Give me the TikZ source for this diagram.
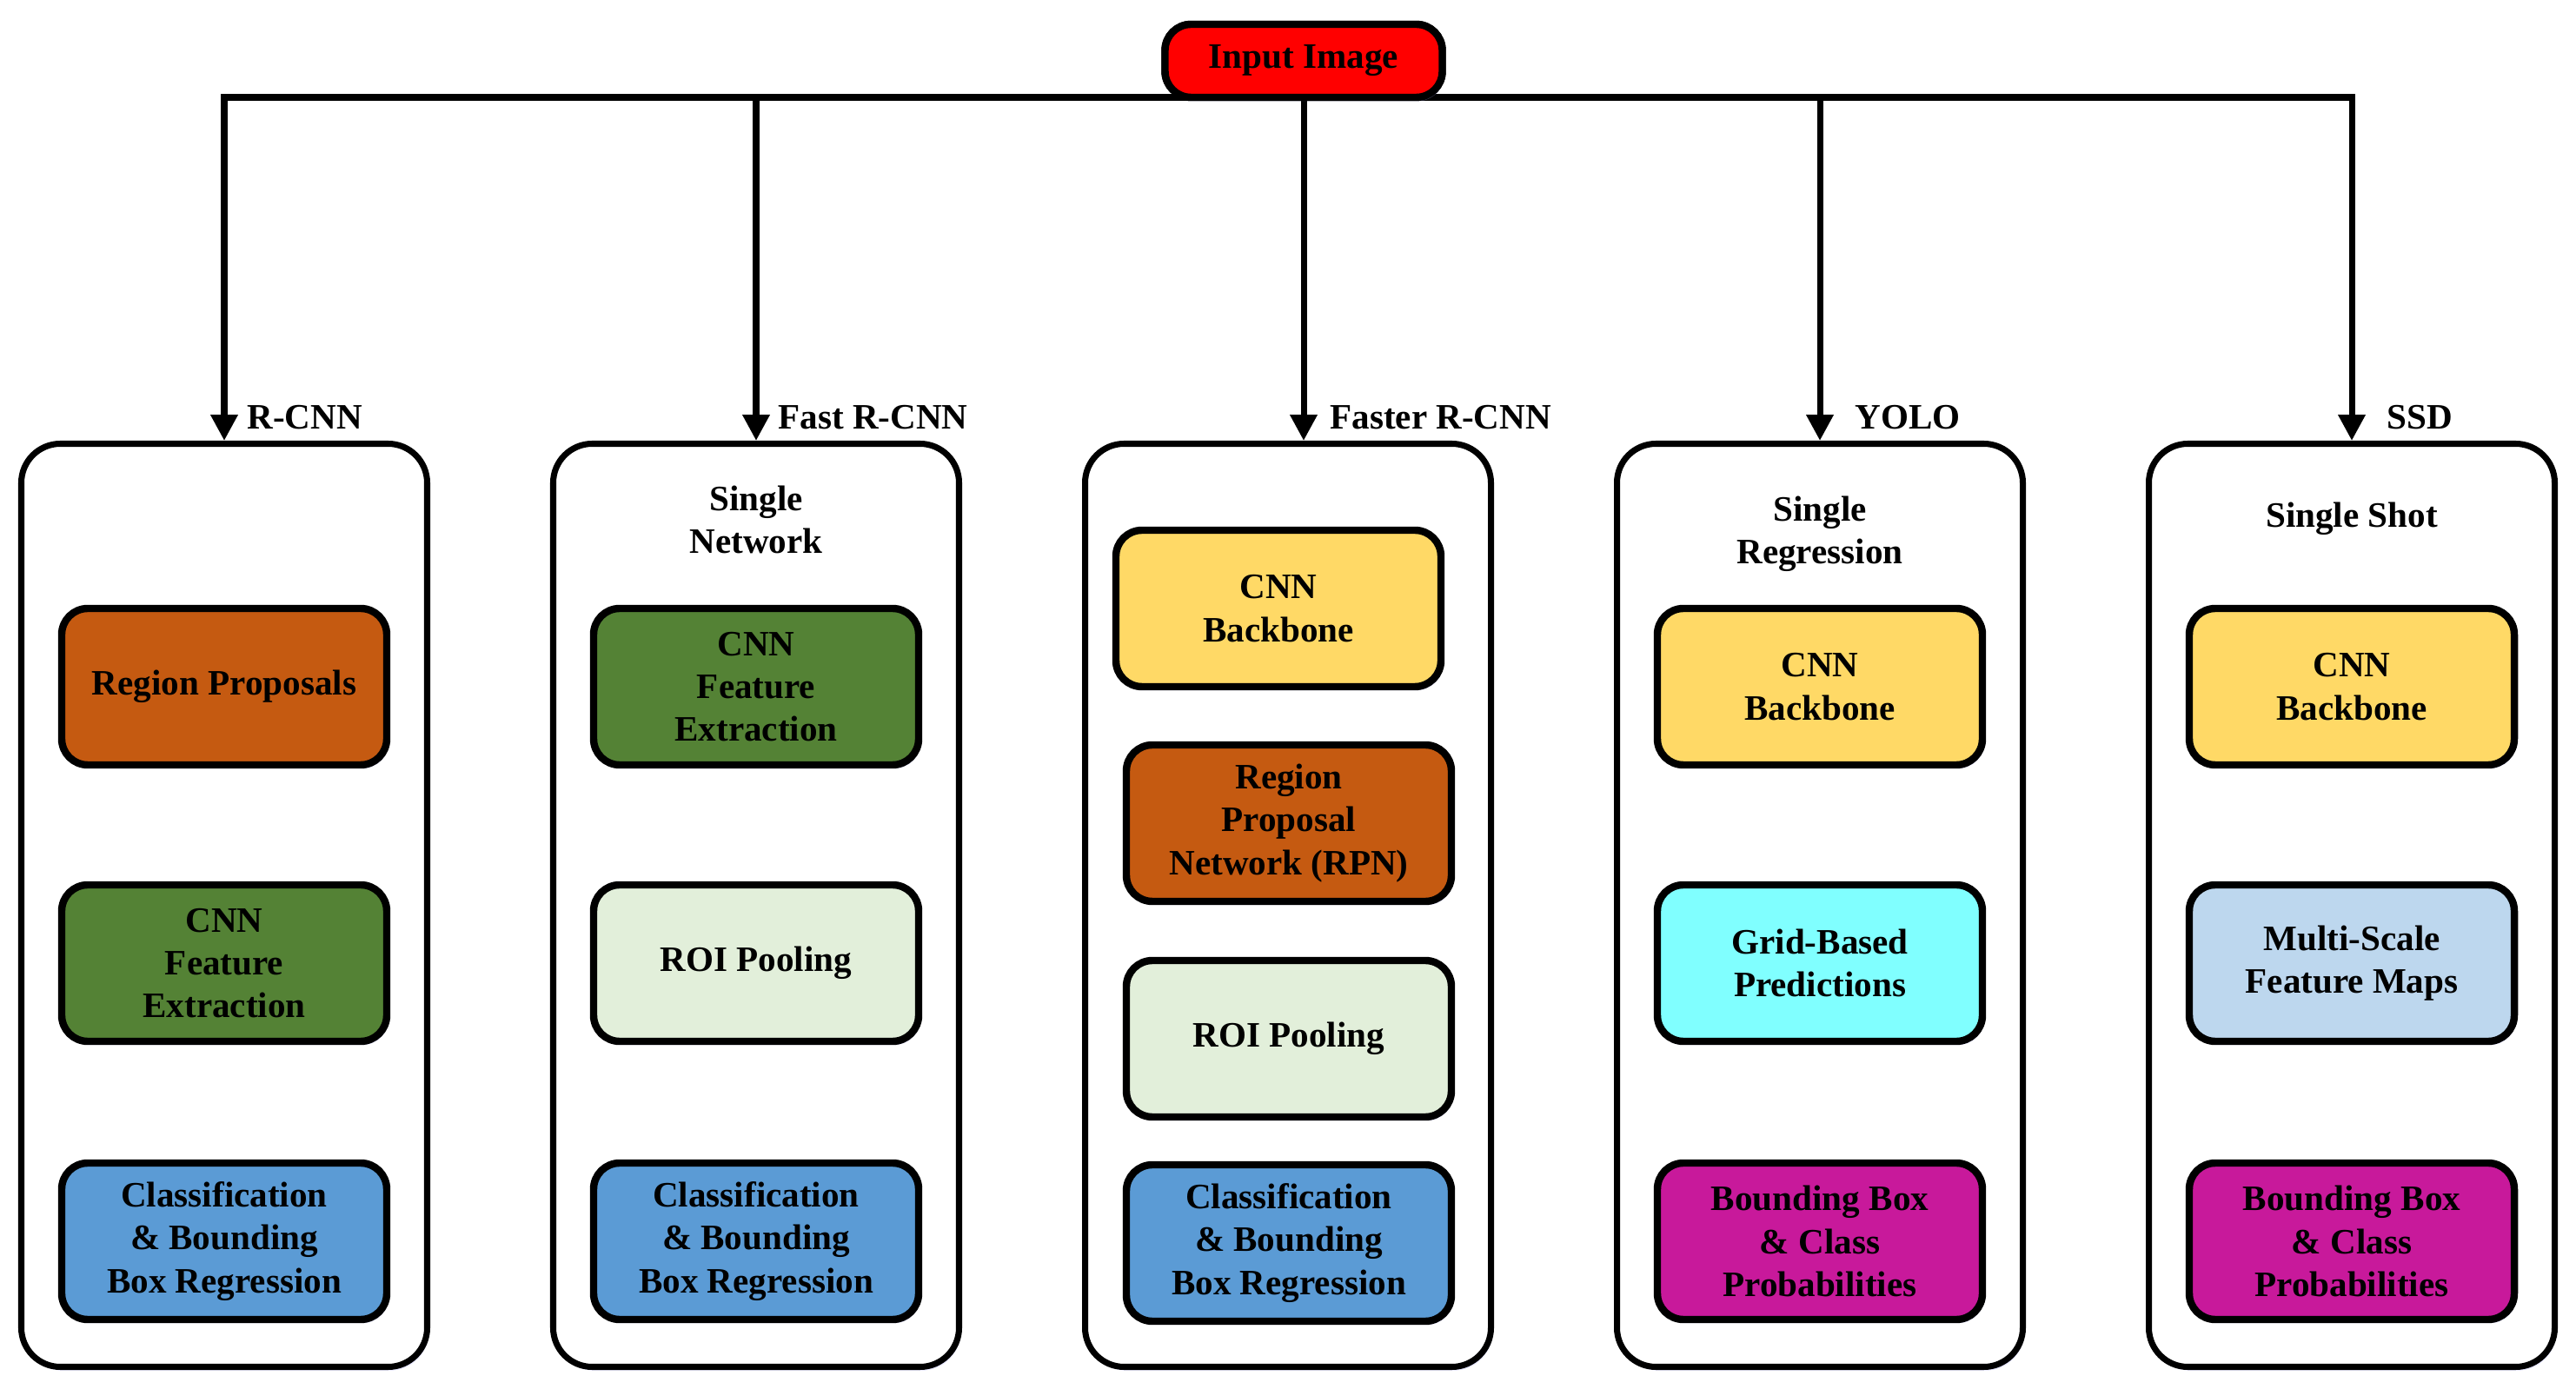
\documentclass[tikz,border=0pt]{standalone}
\usepackage{fontspec}
\setmainfont{Liberation Serif}
\usetikzlibrary{arrows.meta,shadows}

\definecolor{inred}{HTML}{FF0000}
\definecolor{proporange}{HTML}{C55A11}
\definecolor{featgreen}{HTML}{548235}
\definecolor{clsblue}{HTML}{5B9BD5}
\definecolor{roigreen}{HTML}{E2EFDA}
\definecolor{backyellow}{HTML}{FFD966}
\definecolor{gridcyan}{HTML}{80FFFF}
\definecolor{mapblue}{HTML}{BDD7EE}
\definecolor{probmagenta}{HTML}{C8199B}

\begin{document}
\begin{tikzpicture}[
	every node/.style={font=\fontsize{11.7}{14}\selectfont\bfseries},
	glow/.style={drop shadow={fill=blue!30, opacity=0.35, shadow xshift=0.6pt, shadow yshift=-1.2pt}},
	model/.style={rectangle, draw, line width=2pt, rounded corners=0.45cm, fill=white, glow,
		minimum width=4.67cm, minimum height=10.62cm},
	stage/.style={rectangle, draw, line width=2.4pt, rounded corners=0.3cm, glow, align=center,
		minimum width=3.74cm, minimum height=1.8cm},
	source/.style={stage, fill=inred, outer sep=0pt, minimum width=3.19cm, minimum height=0.84cm},
	title/.style={align=center},
	tag/.style={anchor=base west},
	feed/.style={line width=2pt, -{Triangle[length=8.5pt,width=8.5pt]}},
	]
	\useasboundingbox (0,0) rectangle (29.64,-16.06);

	% input and the five detectors
	\node [source] (input) at (15.00,-0.70) {Input Image};
	\node [model] (rcnn) at (2.58,-10.415) {};
	\node [model] (fast) at (8.70,-10.415) {};
	\node [model] (faster) at (14.82,-10.415) {};
	\node [model] (yolo) at (20.94,-10.415) {};
	\node [model] (ssd) at (27.06,-10.415) {};

	% connectors
	\draw [feed] (input.south) -| (rcnn.north);
	\draw [feed] (input.south) -| (fast.north);
	\draw [feed] (input.south) -- (input.south |- faster.north);
	\draw [feed] (input.south) -| (yolo.north);
	\draw [feed] (input.south) -| (ssd.north);
	\node [source] at (input) {Input Image};

	\node [tag] (rcnnlbl) at ([xshift=0.14cm,yshift=0.13cm]rcnn.north) {R-CNN};
	\node [tag] (fastlbl) at ([xshift=0.13cm,yshift=0.13cm]fast.north) {Fast R-CNN};
	\node [tag] (fasterlbl) at ([xshift=0.18cm,yshift=0.13cm]input.south |- faster.north) {Faster R-CNN};
	\node [tag] (yololbl) at ([xshift=0.28cm,yshift=0.13cm]yolo.north) {YOLO};
	\node [tag] (ssdlbl) at ([xshift=0.28cm,yshift=0.13cm]ssd.north) {SSD};

	% R-CNN
	\node [stage, fill=proporange] (rcnnA) at (2.58,-7.90) {Region Proposals};
	\node [stage, fill=featgreen] (rcnnB) at (2.58,-11.08) {CNN\\Feature\\Extraction};
	\node [stage, fill=clsblue] (rcnnC) at (2.58,-14.28) {Classification\\\& Bounding\\Box Regression};

	% Fast R-CNN
	\node [title] (fasttitle) at (8.70,-5.98) {Single\\Network};
	\node [stage, fill=featgreen] (fastA) at (8.70,-7.90) {CNN\\Feature\\Extraction};
	\node [stage, fill=roigreen] (fastB) at (8.70,-11.08) {ROI Pooling};
	\node [stage, fill=clsblue] (fastC) at (8.70,-14.28) {Classification\\\& Bounding\\Box Regression};

	% Faster R-CNN
	\node [stage, fill=backyellow] (fasterA) at (14.71,-7.00) {CNN\\Backbone};
	\node [stage, fill=proporange] (fasterB) at (14.83,-9.47) {Region\\Proposal\\Network (RPN)};
	\node [stage, fill=roigreen] (fasterC) at (14.83,-11.95) {ROI Pooling};
	\node [stage, fill=clsblue] (fasterD) at (14.83,-14.30) {Classification\\\& Bounding\\Box Regression};

	% YOLO
	\node [title] (yolotitle) at (20.94,-6.14) {Single\\Regression};
	\node [stage, fill=backyellow] (yoloA) at (20.94,-7.90) {CNN\\Backbone};
	\node [stage, fill=gridcyan] (yoloB) at (20.94,-11.08) {Grid-Based\\Predictions};
	\node [stage, fill=probmagenta] (yoloC) at (20.94,-14.28) {Bounding Box\\\& Class\\Probabilities};

	% SSD
	\node [title] (ssdtitle) at (27.06,-5.97) {Single Shot};
	\node [stage, fill=backyellow] (ssdA) at (27.06,-7.90) {CNN\\Backbone};
	\node [stage, fill=mapblue] (ssdB) at (27.06,-11.08) {Multi-Scale\\Feature Maps};
	\node [stage, fill=probmagenta] (ssdC) at (27.06,-14.28) {Bounding Box\\\& Class\\Probabilities};
\end{tikzpicture}
\end{document}
